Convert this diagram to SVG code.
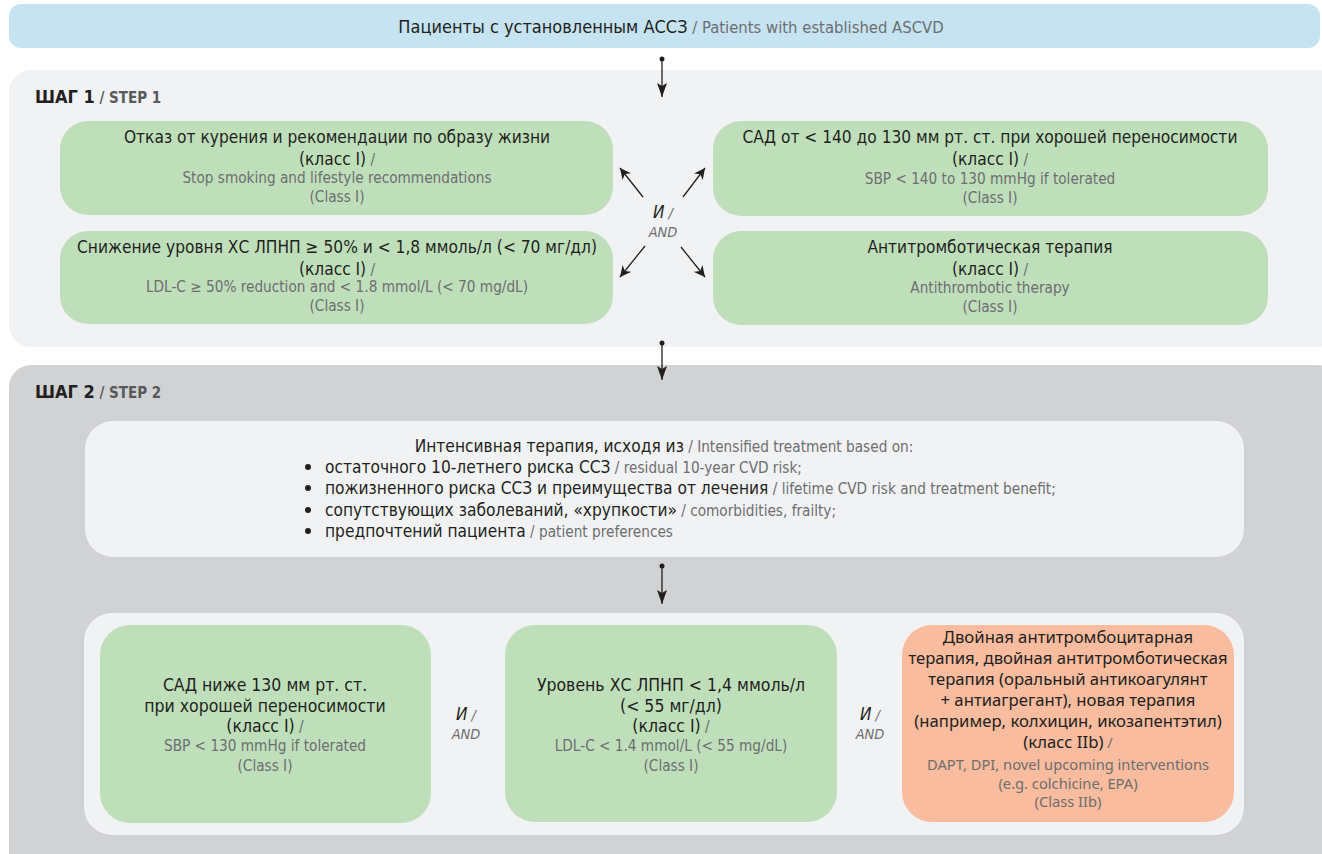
<svg xmlns="http://www.w3.org/2000/svg" width="1322" height="854" viewBox="0 0 1322 854">
<style>
text{font-family:"DejaVu Sans Condensed","DejaVu Sans",sans-serif;font-stretch:condensed;text-anchor:middle}
.ru{font-size:17.2px;fill:#231f20}
.en{font-size:15.2px;fill:#6d6e70}
.ru2{font-size:17.5px;fill:#231f20}
.tru{font-size:18px;fill:#231f20}
.ten{font-size:16.5px;fill:#6d6e70}
.step{font-size:18px;font-weight:bold;fill:#231f20;text-anchor:start}
.stepen{font-size:15px;fill:#58595b}
.and1{font-size:17px;font-style:italic;fill:#231f20}
.and2{font-size:14.5px;font-style:italic;fill:#6d6e70}
.green{fill:#bfdfbb}
.orange{fill:#f9bc9e}
.lt{fill:#f1f2f4}
.bl{text-anchor:start}
.conn line{stroke:#231f20;stroke-width:1.3}
.nru{font-family:"Noto Sans","DejaVu Sans",sans-serif;font-stretch:normal;font-size:16.7px;fill:#231f20}
.nen{font-family:"Noto Sans","DejaVu Sans",sans-serif;font-stretch:normal;font-size:14.7px;fill:#6d6e70}
</style>
<defs>
<marker id="ah" viewBox="0 0 10 10" refX="10" refY="5" markerWidth="11" markerHeight="11" markerUnits="userSpaceOnUse" orient="auto">
<path d="M0,0 L10,5 L0,10 L3,5 Z" fill="#231f20"/>
</marker>
<marker id="ah2" viewBox="0 0 14 10" refX="14" refY="5" markerWidth="15" markerHeight="10" markerUnits="userSpaceOnUse" orient="auto">
<path d="M0,0 L14,5 L0,10 L3,5 Z" fill="#231f20"/>
</marker>
</defs>
<rect width="1322" height="854" fill="#ffffff"/>

<g id="top">
<rect x="9" y="4" width="1311" height="44" rx="12" fill="#c5e3f1"/>
<text x="671" y="33"><tspan class="tru">Пациенты с установленным АССЗ</tspan><tspan class="ten"> / Patients with established ASCVD</tspan></text>
</g>

<g id="step1">
<rect x="9" y="70" width="1330" height="277" rx="22" class="lt"/>
<text x="35" y="103" class="step">ШАГ 1<tspan class="stepen"> / STEP 1</tspan></text>
</g>

<g id="s1-smoking">
<rect x="60" y="121" width="553" height="94" rx="28" class="green"/>
<text x="337" y="143" class="ru">Отказ от курения и рекомендации по образу жизни</text>
<text x="337" y="165"><tspan class="ru">(класс I)</tspan><tspan class="en"> /</tspan></text>
<text x="337" y="183" class="en">Stop smoking and lifestyle recommendations</text>
<text x="337" y="202" class="en">(Class I)</text>
</g>

<g id="s1-ldl">
<rect x="60" y="231" width="553" height="93" rx="28" class="green"/>
<text x="337" y="253" class="ru">Снижение уровня ХС ЛПНП ≥ 50% и &lt; 1,8 ммоль/л (&lt; 70 мг/дл)</text>
<text x="337" y="275"><tspan class="ru">(класс I)</tspan><tspan class="en"> /</tspan></text>
<text x="337" y="292" class="en">LDL-C ≥ 50% reduction and &lt; 1.8 mmol/L (&lt; 70 mg/dL)</text>
<text x="337" y="311" class="en">(Class I)</text>
</g>

<g id="s1-sbp">
<rect x="713" y="121" width="555" height="95" rx="28" class="green"/>
<text x="990" y="143" class="ru">САД от &lt; 140 до 130 мм рт. ст. при хорошей переносимости</text>
<text x="990" y="165"><tspan class="ru">(класс I)</tspan><tspan class="en"> /</tspan></text>
<text x="990" y="184" class="en">SBP &lt; 140 to 130 mmHg if tolerated</text>
<text x="990" y="203" class="en">(Class I)</text>
</g>

<g id="s1-antithrombotic">
<rect x="713" y="231" width="555" height="94" rx="28" class="green"/>
<text x="990" y="253" class="ru">Антитромботическая терапия</text>
<text x="990" y="275"><tspan class="ru">(класс I)</tspan><tspan class="en"> /</tspan></text>
<text x="990" y="293" class="en">Antithrombotic therapy</text>
<text x="990" y="312" class="en">(Class I)</text>
</g>

<g id="s1-and">
<text x="663" y="218"><tspan class="and1">И</tspan><tspan class="and2"> /</tspan></text>
<text x="663" y="237" class="and2">AND</text>
</g>

<g id="step2">
<rect x="9" y="365" width="1330" height="520" rx="22" fill="#d1d2d4"/>
<text x="35" y="398" class="step">ШАГ 2<tspan class="stepen"> / STEP 2</tspan></text>
</g>

<g id="s2-intensified">
<rect x="85" y="421" width="1159" height="136" rx="28" class="lt"/>
<text x="664" y="452"><tspan class="ru">Интенсивная терапия, исходя из</tspan><tspan class="en"> / Intensified treatment based on:</tspan></text>
<g fill="#231f20">
<circle cx="308" cy="467" r="3"/>
<circle cx="308" cy="488" r="3"/>
<circle cx="308" cy="510" r="3"/>
<circle cx="308" cy="531" r="3"/>
</g>
<text x="325" y="473" class="bl"><tspan class="ru">остаточного 10-летнего риска ССЗ</tspan><tspan class="en"> / residual 10-year CVD risk;</tspan></text>
<text x="325" y="494" class="bl"><tspan class="ru">пожизненного риска ССЗ и преимущества от лечения</tspan><tspan class="en"> / lifetime CVD risk and treatment benefit;</tspan></text>
<text x="325" y="516" class="bl"><tspan class="ru">сопутствующих заболеваний, «хрупкости»</tspan><tspan class="en"> / comorbidities, frailty;</tspan></text>
<text x="325" y="537" class="bl"><tspan class="ru">предпочтений пациента</tspan><tspan class="en"> / patient preferences</tspan></text>
</g>

<g id="s2-targets">
<rect x="84" y="613" width="1160" height="222" rx="28" class="lt"/>
</g>

<g id="s2-sbp">
<rect x="100" y="625" width="331" height="198" rx="30" class="green"/>
<text x="265" y="691" class="ru2">САД ниже 130 мм рт. ст.</text>
<text x="265" y="712" class="ru2">при хорошей переносимости</text>
<text x="265" y="732"><tspan class="ru2">(класс I)</tspan><tspan class="en"> /</tspan></text>
<text x="265" y="751" class="en">SBP &lt; 130 mmHg if tolerated</text>
<text x="265" y="771" class="en">(Class I)</text>
</g>

<g id="s2-ldl">
<rect x="505" y="625" width="332" height="197" rx="30" class="green"/>
<text x="671" y="691" class="ru2">Уровень ХС ЛПНП &lt; 1,4 ммоль/л</text>
<text x="671" y="712" class="ru2">(&lt; 55 мг/дл)</text>
<text x="671" y="732"><tspan class="ru2">(класс I)</tspan><tspan class="en"> /</tspan></text>
<text x="671" y="751" class="en">LDL-C &lt; 1.4 mmol/L (&lt; 55 mg/dL)</text>
<text x="671" y="771" class="en">(Class I)</text>
</g>

<g id="s2-dapt">
<rect x="902" y="625" width="332" height="197" rx="30" class="orange"/>
<text x="1068" y="643" class="nru">Двойная антитромбоцитарная</text>
<text x="1068" y="664" class="nru">терапия, двойная антитромботическая</text>
<text x="1068" y="685" class="nru">терапия (оральный антикоагулянт</text>
<text x="1068" y="706" class="nru">+ антиагрегант), новая терапия</text>
<text x="1068" y="727" class="nru">(например, колхицин, икозапентэтил)</text>
<text x="1068" y="748"><tspan class="nru">(класс IIb)</tspan><tspan class="nen"> /</tspan></text>
<text x="1068" y="770" class="nen">DAPT, DPI, novel upcoming interventions</text>
<text x="1068" y="789" class="nen">(e.g. colchicine, EPA)</text>
<text x="1068" y="807" class="nen">(Class IIb)</text>
</g>

<g id="s2-and">
<text x="466" y="720"><tspan class="and1">И</tspan><tspan class="and2"> /</tspan></text>
<text x="466" y="739" class="and2">AND</text>
<text x="870" y="720"><tspan class="and1">И</tspan><tspan class="and2"> /</tspan></text>
<text x="870" y="739" class="and2">AND</text>
</g>

<g id="connectors" class="conn">
<circle cx="662" cy="59" r="2.5" fill="#231f20"/>
<line x1="662" y1="59" x2="662" y2="97" marker-end="url(#ah2)"/>
<circle cx="662" cy="343" r="2.5" fill="#231f20"/>
<line x1="662" y1="343" x2="662" y2="380" marker-end="url(#ah2)"/>
<circle cx="662" cy="566" r="2.5" fill="#231f20"/>
<line x1="662" y1="566" x2="662" y2="604" marker-end="url(#ah2)"/>
<line x1="643" y1="197" x2="620" y2="168" marker-end="url(#ah)"/>
<line x1="683" y1="197" x2="705" y2="168" marker-end="url(#ah)"/>
<line x1="645" y1="246" x2="620" y2="277" marker-end="url(#ah)"/>
<line x1="681" y1="247" x2="705" y2="277" marker-end="url(#ah)"/>
</g>
</svg>
